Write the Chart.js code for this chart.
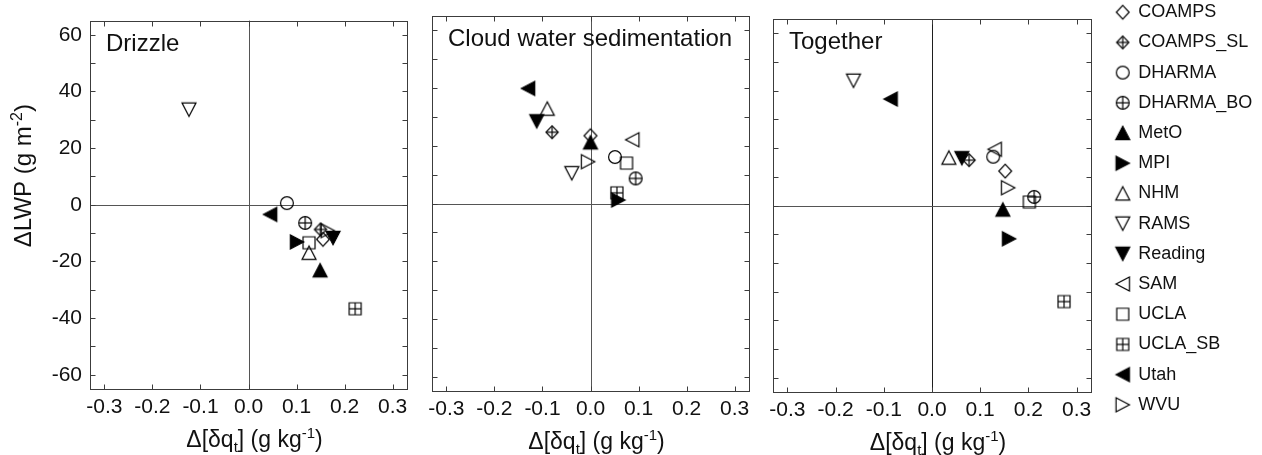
<!DOCTYPE html>
<html>
<head>
<meta charset="utf-8">
<script src="https://cdn.jsdelivr.net/npm/chart.js@4.4.1/dist/chart.umd.min.js"></script>
<style>
html,body{margin:0;padding:0;background:#fff;overflow:hidden;width:1262px;height:455px;}
.wrap{position:absolute;left:0;top:0;width:1262px;height:455px;}
canvas{pointer-events:none;}
</style>
</head>
<body>
<div class="wrap"><canvas id="c1"></canvas></div>
<div class="wrap"><canvas id="c2"></canvas></div>
<div class="wrap"><canvas id="c3"></canvas></div>
<div id="wl" style="position:absolute;left:1104px;top:-9.5px;width:400px;height:470px;"><canvas id="cl"></canvas></div>
<script>
// ---------------- data ----------------
const models = ['COAMPS','COAMPS_SL','DHARMA','DHARMA_BO','MetO','MPI','NHM','RAMS','Reading','SAM','UCLA','UCLA_SB','Utah','WVU'];
const panelTitles = ['Drizzle','Cloud water sedimentation','Together'];
const xTicks = [-0.3,-0.2,-0.1,0.0,0.1,0.2,0.3];
const yTicks = [-60,-50,-40,-30,-20,-10,0,10,20,30,40,50,60];
const yLabelEvery = 20;

// Drizzle
const drizzleX = [0.155, 0.150, 0.080, 0.118, 0.149, 0.101, 0.126, -0.124, 0.176, null, 0.126, 0.222, 0.045, 0.165];
const drizzleY = [-12.2, -8.7, 0.6, -6.4, -23.1, -13.1, -16.9, 33.6, -11.7, null, -13.4, -36.7, -3.4, -9.1];
// Cloud water sedimentation
const sedX = [0.000, -0.080, 0.051, 0.094, 0.000, 0.058, -0.090, -0.039, -0.112, 0.087, 0.075, 0.055, -0.130, -0.005];
const sedY = [23.5, 24.7, 16.1, 8.7, 21.2, 1.2, 32.9, 10.5, 28.5, 22.1, 14.0, 3.7, 39.9, 14.5];
// Together
const togX = [0.152, 0.077, 0.127, 0.212, 0.147, 0.160, 0.035, -0.163, 0.062, 0.130, 0.202, 0.274, -0.086, 0.158];
const togY = [12.0, 15.8, 17.0, 3.0, -1.4, -11.6, 16.7, 43.5, 16.5, 19.6, 1.2, -33.5, 37.1, 6.2];

const panelX = [drizzleX, sedX, togX];
const panelY = [drizzleY, sedY, togY];

// ---------------- styles / layout ----------------
const F = "'Liberation Sans', Arial, Helvetica, sans-serif";
const markerKinds = ['diamond','diamondPlus','circle','circlePlus','triUpF','triRightF','triUp','triDown','triDownF','triLeft','square','squarePlus','triLeftF','triRight'];
const panelBoxes = [
  {l:90,  t:17, r:407,  b:389},
  {l:432, t:16, r:749,  b:391},
  {l:773, t:19, r:1091, b:392}
];
const frameColor = '#3c3c3c';
const textColor = '#111';

function mk(kind){
  const S = 18, c = document.createElement('canvas');
  c.width = S; c.height = S;
  const g = c.getContext('2d');
  g.translate(S/2, S/2);
  g.lineWidth = 1.2; g.strokeStyle = '#000'; g.fillStyle = '#000'; g.lineJoin = 'miter';
  const poly = (pts, fill) => {
    g.beginPath();
    pts.forEach((p,i)=> i ? g.lineTo(p[0],p[1]) : g.moveTo(p[0],p[1]));
    g.closePath();
    if (fill) { g.fill(); g.stroke(); } else g.stroke();
  };
  const line = (x1,y1,x2,y2) => { g.beginPath(); g.moveTo(x1,y1); g.lineTo(x2,y2); g.stroke(); };
  const a = 6.7, b = 7.0; // triangle half-height / half-base
  switch(kind){
    case 'diamond': poly([[0,-6.8],[6.4,0],[0,6.8],[-6.4,0]]); break;
    case 'diamondPlus': poly([[0,-6.3],[6.1,0],[0,6.3],[-6.1,0]]); line(0,-6.3,0,6.3); line(-6.1,0,6.1,0); break;
    case 'circle': g.beginPath(); g.arc(0,0,6.4,0,Math.PI*2); g.stroke(); break;
    case 'circlePlus': g.beginPath(); g.arc(0,0,6.4,0,Math.PI*2); g.stroke(); line(0,-6.4,0,6.4); line(-6.4,0,6.4,0); break;
    case 'square': poly([[-6,-6],[6,-6],[6,6],[-6,6]]); break;
    case 'squarePlus': poly([[-6,-6],[6,-6],[6,6],[-6,6]]); line(0,-6,0,6); line(-6,0,6,0); break;
    case 'triUp': poly([[0,-a],[b,a],[-b,a]]); break;
    case 'triUpF': poly([[0,-a],[b,a],[-b,a]], true); break;
    case 'triDown': poly([[0,a],[b,-a],[-b,-a]]); break;
    case 'triDownF': poly([[0,a],[b,-a],[-b,-a]], true); break;
    case 'triRight': poly([[a,0],[-a,-b],[-a,b]]); break;
    case 'triRightF': poly([[a,0],[-a,-b],[-a,b]], true); break;
    case 'triLeft': poly([[-a,0],[a,-b],[a,b]]); break;
    case 'triLeftF': poly([[-a,0],[a,-b],[a,b]], true); break;
  }
  return c;
}
const markers = markerKinds.map(mk);

function crisp(v){ return Math.round(v) + 0.5; }

function drawRich(ctx, segs, cx, cy){
  let w = 0;
  segs.forEach(s => { ctx.font = s[1] + 'px ' + F; w += ctx.measureText(s[0]).width; });
  let x = cx - w/2;
  ctx.textAlign = 'left'; ctx.textBaseline = 'alphabetic';
  segs.forEach(s => { ctx.font = s[1] + 'px ' + F; ctx.fillText(s[0], x, cy + s[2]); x += ctx.measureText(s[0]).width; });
}

const xTitleSegs = [['\u0394[\u03b4q',23,0],['t',15,5],['] (g kg',23,0],['-1',15,-9],[')',23,0]];
const yTitleSegs = [['\u0394LWP (g m',24,0],['-2',16,-9],[')',24,0]];

function makeFramePlugin(i){
  return {
    id: 'frame' + i,
    beforeDatasetsDraw(chart){
      const {ctx, chartArea:a, scales:{x,y}} = chart;
      ctx.save();
      ctx.lineWidth = 1;
      const x0 = crisp(x.getPixelForValue(0)), y0 = crisp(y.getPixelForValue(0));
      ctx.strokeStyle = i === 2 ? '#1e1e1e' : '#555';
      ctx.beginPath(); ctx.moveTo(x0, a.top); ctx.lineTo(x0, a.bottom); ctx.stroke();
      ctx.strokeStyle = '#555';
      ctx.beginPath(); ctx.moveTo(a.left, y0); ctx.lineTo(a.right, y0); ctx.stroke();
      ctx.restore();
    },
    afterDatasetsDraw(chart){
      const {ctx, chartArea:a, scales:{x,y}} = chart;
      ctx.save();
      ctx.strokeStyle = frameColor; ctx.lineWidth = 1;
      const L = crisp(a.left), R = crisp(a.right), T = crisp(a.top), B = crisp(a.bottom);
      ctx.strokeRect(L, T, R - L, B - T);
      const tl = 5;
      ctx.beginPath();
      xTicks.forEach(v => {
        const px = crisp(x.getPixelForValue(v));
        ctx.moveTo(px, B); ctx.lineTo(px, B - tl);
        ctx.moveTo(px, T); ctx.lineTo(px, T + tl);
      });
      yTicks.forEach(v => {
        const py = crisp(y.getPixelForValue(v));
        ctx.moveTo(L, py); ctx.lineTo(L + tl, py);
        ctx.moveTo(R, py); ctx.lineTo(R - tl, py);
      });
      ctx.stroke();
      // panel title
      ctx.fillStyle = textColor;
      ctx.font = '24px ' + F; ctx.textAlign = 'left'; ctx.textBaseline = 'alphabetic';
      ctx.fillText(panelTitles[i], a.left + 16, a.top + 30);
      // x axis title
      drawRich(ctx, xTitleSegs, (a.left + a.right)/2 + 6, a.bottom + 58);
      // y axis title
      if (i === 0){
        ctx.save();
        ctx.translate(31, a.top + 155);
        ctx.rotate(-Math.PI/2);
        drawRich(ctx, yTitleSegs, 0, 0);
        ctx.restore();
      }
      ctx.restore();
    }
  };
}

function fmtX(v){ return (Math.abs(v) < 1e-9 ? 0 : v).toFixed(1); }

function makePanel(i){
  const P = panelBoxes[i];
  const xs = panelX[i], ys = panelY[i];
  const datasets = models.map((m,k) => ({
    label: m,
    data: xs[k] == null ? [] : [{x: xs[k], y: ys[k]}],
    pointStyle: markers[k],
    pointRadius: 7,
    showLine: false
  }));
  return new Chart(document.getElementById('c' + (i+1)), {
    type: 'scatter',
    data: {datasets},
    plugins: [makeFramePlugin(i)],
    options: {
      responsive: true, maintainAspectRatio: false, animation: false, events: [],
      devicePixelRatio: 1,
      layout: {padding: {left: P.l - 90, top: P.t, right: 1262 - P.r, bottom: 455 - P.b - 60}},
      plugins: {legend: {display: false}, tooltip: {enabled: false}},
      scales: {
        x: {
          type: 'linear', min: -0.33, max: 0.33,
          afterFit: s => { s.height = 60; },
          afterBuildTicks: s => { s.ticks = xTicks.map(v => ({value: v})); },
          grid: {display: false, drawTicks: false},
          border: {display: false},
          ticks: {font: {family: F, size: 21}, color: textColor, padding: 6, maxRotation: 0, autoSkip: false, callback: v => fmtX(v)}
        },
        y: {
          type: 'linear', min: -65, max: 65,
          afterFit: s => { s.width = 90; },
          afterBuildTicks: s => { s.ticks = yTicks.map(v => ({value: v})); },
          grid: {display: false, drawTicks: false},
          border: {display: false},
          ticks: {display: i === 0, font: {family: F, size: 21}, color: textColor, padding: 8, autoSkip: false,
                  callback: v => (v % yLabelEvery === 0 ? String(v) : '')}
        }
      }
    }
  });
}
[0,1,2].forEach(makePanel);

// ---------------- legend ----------------
new Chart(document.getElementById('cl'), {
  type: 'scatter',
  data: {datasets: models.map((m,k) => ({label: m, data: [], pointStyle: markers[k]}))},
  options: {
    responsive: true, maintainAspectRatio: false, animation: false, events: [],
    devicePixelRatio: 1,
    layout: {padding: 0},
    scales: {x: {display: false}, y: {display: false}},
    plugins: {
      tooltip: {enabled: false},
      legend: {
        display: true, position: 'left', align: 'start',
        labels: {
          usePointStyle: true, pointStyleWidth: 13, padding: 12.2,
          font: {family: F, size: 18}, color: textColor,
          generateLabels: chart => chart.data.datasets.map((d,k) => ({
            text: d.label, pointStyle: markers[k], fillStyle: '#000', strokeStyle: '#000',
            lineWidth: 0, hidden: false, datasetIndex: k, fontColor: textColor
          }))
        }
      }
    }
  }
});
</script>
</body>
</html>
